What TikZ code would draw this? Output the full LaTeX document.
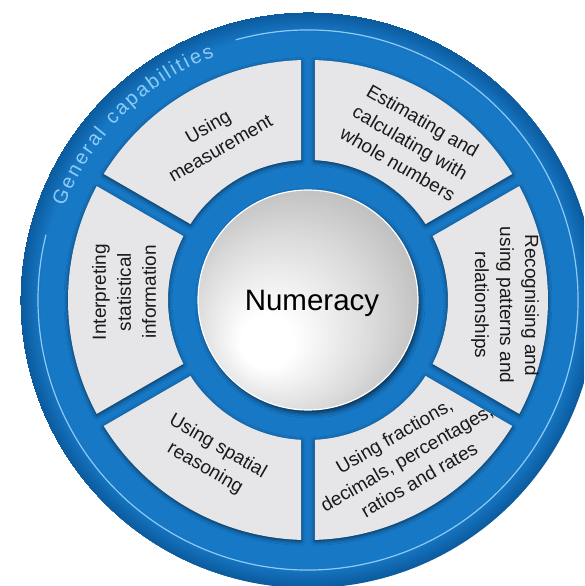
\documentclass[tikz,border=0pt]{standalone}
\usepackage{fontspec}
\setmainfont{Liberation Sans}
\usetikzlibrary{shadows.blur, decorations.text, positioning}

\definecolor{capblue}{HTML}{1778C6}
\definecolor{capdark}{HTML}{0B5A9C}
\definecolor{caplight}{HTML}{8ECBF2}
\definecolor{segfill}{HTML}{E6E6E8}

% rim of the blue disk gets a little darker (path edge sits at 25bp)
\pgfdeclareradialshading{ringshade}{\pgfpoint{0bp}{0bp}}{color(0bp)=(capblue); color(23.2bp)=(capblue); color(25bp)=(capdark)}
% light from the lower left on the centre disc
\pgfdeclareradialshading{hubshade}{\pgfpoint{-11bp}{-11bp}}{color(0bp)=(white); color(6bp)=(white); color(20bp)=(gray!28); color(40bp)=(gray!75)}

\tikzset{
	segment/.style={fill=segfill, blur shadow={shadow xshift=0pt, shadow yshift=-1.5pt, shadow blur radius=4pt, shadow opacity=60}},
	seglabel/.style={align=center, text=black!90, font=\fontsize{19}{25}\selectfont},
	hub/.style={circle, shade, shading=hubshade, draw=white, line width=1.2pt, minimum size=220pt, inner sep=0pt,
		blur shadow={shadow xshift=2pt, shadow yshift=-3pt, shadow blur radius=5pt, shadow opacity=65}}
}

\begin{document}
\begin{tikzpicture}[x=1pt, y=1pt]
	\useasboundingbox (-308,-286) rectangle (276,300);
	\clip (-308,-286) rectangle (276,300);
	
	% Draw blue disk
	\shade[shading=ringshade] (0,0) circle[radius=288];
	
	% Thin ring, open where the title runs
	\draw[caplight, line width=1.2pt] (105.5:270) arc[start angle=105.5, end angle=-194, radius=270];
	\path[decorate, decoration={text along path, text align={fit to path},
		text={|\fontsize{20}{20}\selectfont\color{caplight}|General capabilities}}]
		(159:261) arc[start angle=159, end angle=111, radius=261];
	
	% Draw the six segments, gaps of 14pt between them
	\pgfmathsetmacro\ao{asin(7/240)}
	\pgfmathsetmacro\ai{asin(7/140)}
	\foreach \mid in {60,0,-60,-120,180,120}{
		\pgfmathsetmacro\sa{\mid-30+\ao}
		\pgfmathsetmacro\ea{\mid+30-\ao}
		\pgfmathsetmacro\sb{\mid+30-\ai}
		\pgfmathsetmacro\eb{\mid-30+\ai}
		\path[segment] (\sa:240) arc[start angle=\sa, end angle=\ea, radius=240]
			-- (\sb:140) arc[start angle=\sb, end angle=\eb, radius=140] -- cycle;
	}
	
	% Segment labels
	\foreach \name/\ang/\rad/\rot/\txt in {
		est/57/188/-30/{Estimating and\\calculating with\\whole numbers},
		pat/-1.5/197/-90/{Recognising and\\using patterns and\\relationships},
		frac/-58/186/30/{Using fractions,\\decimals, percentages,\\ratios and rates},
		spat/-121.5/185/-30/{Using spatial\\reasoning},
		stat/177.5/184/90/{Interpreting\\statistical\\information},
		meas/120/188/30/{Using\\measurement}}
	\node[seglabel, rotate=\rot] (\name) at (\ang:\rad) {\txt};
	
	% Centre disc
	\node[hub] (hub) at (0,0) {};
	\node[font=\fontsize{29.5}{29.5}\selectfont] (numeracy) at (4,-3) {Numeracy};
	
\end{tikzpicture}
\end{document}
